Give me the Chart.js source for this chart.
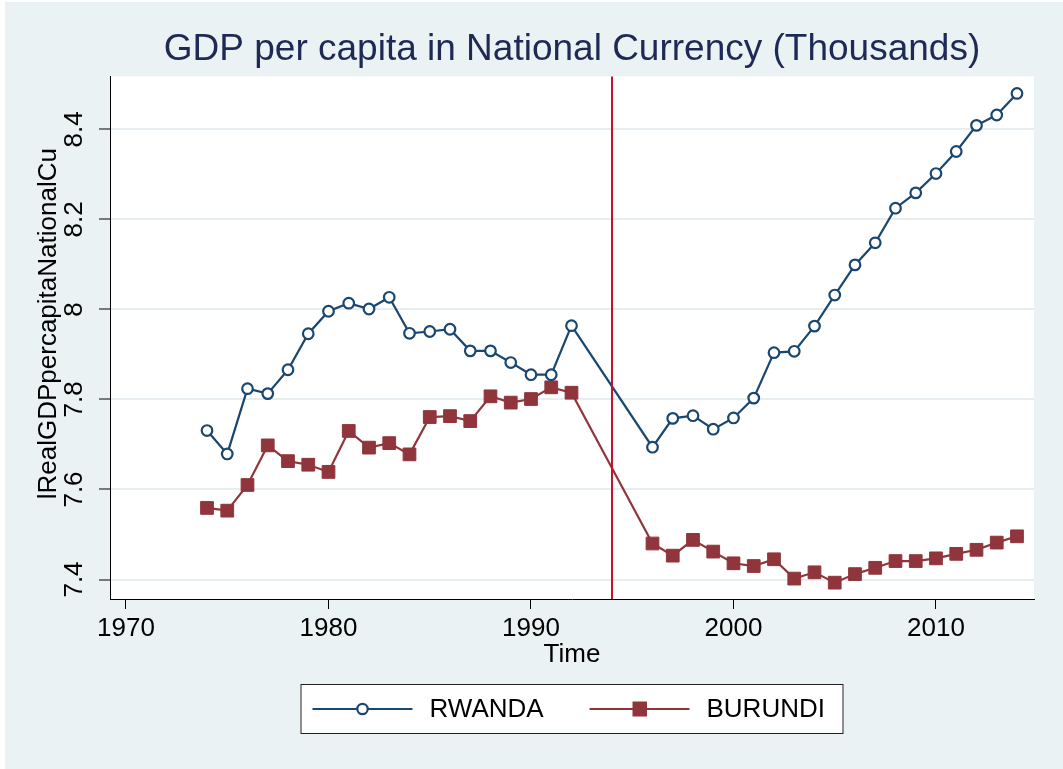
<!DOCTYPE html>
<html>
<head>
<meta charset="utf-8">
<script src="https://cdn.jsdelivr.net/npm/chart.js@4.4.1/dist/chart.umd.min.js"></script>
<style>
  html, body { margin: 0; padding: 0; background: #ffffff; }
  canvas { display: block; }
</style>
</head>
<body>
<canvas id="chart" width="1063" height="769"></canvas>
<script>
const years = [1974, 1975, 1976, 1977, 1978, 1979, 1980, 1981, 1982, 1983,
    1984, 1985, 1986, 1987, 1988, 1989, 1990, 1991, 1992,
    1996, 1997, 1998, 1999, 2000, 2001, 2002, 2003, 2004, 2005,
    2006, 2007, 2008, 2009, 2010, 2011, 2012, 2013, 2014];
const rwanda = [7.731, 7.679, 7.824, 7.813, 7.866, 7.946, 7.996, 8.014, 8.001, 8.027,
    7.947, 7.951, 7.956, 7.908, 7.908, 7.882, 7.855, 7.855, 7.964,
    7.694, 7.758, 7.764, 7.734, 7.759, 7.803, 7.904, 7.907, 7.963, 8.032,
    8.099, 8.148, 8.225, 8.259, 8.302, 8.351, 8.409, 8.432, 8.480];
const burundi = [7.559, 7.553, 7.610, 7.698, 7.663, 7.655, 7.639, 7.730, 7.693, 7.703,
    7.678, 7.761, 7.763, 7.752, 7.807, 7.793, 7.801, 7.827, 7.815,
    7.480, 7.453, 7.488, 7.462, 7.436, 7.430, 7.445, 7.402, 7.416, 7.393,
    7.412, 7.426, 7.441, 7.441, 7.447, 7.457, 7.466, 7.482, 7.496];
const xTicks = [1970, 1980, 1990, 2000, 2010];
const yTicks = [7.4, 7.6, 7.8, 8, 8.2, 8.4];
const eventYear = 1994;

const FONT = "'Liberation Sans', Arial, sans-serif";
const BG = '#EAF2F3';
const NAVY = '#1A476F';
const MAROON = '#90353B';

const toPoints = (vals) => years.map((yr, i) => ({ x: yr, y: vals[i] }));

// background, white plot region
const backdrop = {
    id: 'backdrop',
    beforeDraw: (chart) => {
        const { ctx, chartArea, width, height } = chart;
        ctx.save();
        ctx.fillStyle = '#ffffff';
        ctx.fillRect(0, 0, width, height);
        ctx.fillStyle = BG;
        ctx.fillRect(5, 2, width - 5, height - 2);
        ctx.fillStyle = '#ffffff';
        ctx.fillRect(chartArea.left, chartArea.top,
            chartArea.right - chartArea.left, chartArea.bottom - chartArea.top);
        ctx.restore();
    },
};

// vertical line at 1994
const eventLine = {
    id: 'eventLine',
    afterDatasetsDraw: (chart) => {
        const { ctx, chartArea, scales } = chart;
        const x = scales.x.getPixelForValue(eventYear);
        ctx.save();
        ctx.beginPath();
        ctx.strokeStyle = '#C8102E';
        ctx.lineWidth = 2;
        ctx.moveTo(x, chartArea.top);
        ctx.lineTo(x, chartArea.bottom);
        ctx.stroke();
        ctx.restore();
    },
};

// rotated y tick labels and axis title (Stata style)
const yLabels = {
    id: 'yLabels',
    afterDraw: (chart) => {
        const { ctx, chartArea, scales } = chart;
        const { y } = scales;
        ctx.save();
        ctx.fillStyle = '#000000';
        ctx.font = `26px ${FONT}`;
        ctx.textAlign = 'center';
        ctx.textBaseline = 'middle';
        y.ticks.forEach((t) => {
            const py = y.getPixelForValue(t.value);
            ctx.save();
            ctx.translate(chartArea.left - 35, py);
            ctx.rotate(-Math.PI / 2);
            ctx.fillText(String(Number(t.value.toFixed(1))), 0, 0);
            ctx.restore();
        });
        ctx.translate(chartArea.left - 61, (chartArea.top + chartArea.bottom) / 2 - 14);
        ctx.rotate(-Math.PI / 2);
        ctx.fillText('lRealGDPpercapitaNationalCu', 0, 0);
        ctx.restore();
    },
};

// boxed legend with line + marker samples
const boxLegend = {
    id: 'boxLegend',
    afterDraw: (chart) => {
        const { ctx, chartArea } = chart;
        const cx = (chartArea.left + chartArea.right) / 2;
        const w = 543, h = 50;
        const left = cx - w / 2, top = 684;
        const midY = top + h / 2;
        ctx.save();
        ctx.fillStyle = '#ffffff';
        ctx.fillRect(left, top, w, h);
        ctx.strokeStyle = '#222222';
        ctx.lineWidth = 1;
        ctx.strokeRect(left + 0.5, top + 0.5, w - 1, h - 1);

        const offsets = [12, 289];
        chart.data.datasets.forEach((ds, i) => {
            const x0 = left + offsets[i];
            ctx.beginPath();
            ctx.strokeStyle = ds.borderColor;
            ctx.lineWidth = 2.2;
            ctx.moveTo(x0, midY);
            ctx.lineTo(x0 + 100, midY);
            ctx.stroke();
            if (ds.pointStyle === 'circle') {
                ctx.beginPath();
                ctx.fillStyle = '#ffffff';
                ctx.lineWidth = 2.2;
                ctx.arc(x0 + 50, midY, 5.2, 0, Math.PI * 2);
                ctx.fill();
                ctx.stroke();
            } else {
                ctx.fillStyle = ds.borderColor;
                ctx.fillRect(x0 + 43, midY - 7.5, 14.5, 15);
            }
            ctx.fillStyle = '#000000';
            ctx.font = `26px ${FONT}`;
            ctx.textAlign = 'left';
            ctx.textBaseline = 'middle';
            ctx.fillText(ds.label, x0 + 117, midY + 1);
        });
        ctx.restore();
    },
};

new Chart(document.getElementById('chart'), {
    type: 'line',
    data: {
        datasets: [
            {
                label: 'RWANDA',
                data: toPoints(rwanda),
                borderColor: NAVY,
                borderWidth: 2.2,
                pointStyle: 'circle',
                pointRadius: 5.3,
                pointBorderWidth: 2.2,
                pointBackgroundColor: '#ffffff',
                pointBorderColor: NAVY,
                tension: 0,
            },
            {
                label: 'BURUNDI',
                data: toPoints(burundi),
                borderColor: MAROON,
                borderWidth: 2.2,
                pointStyle: 'rect',
                pointRadius: 9,
                pointBorderWidth: 1,
                pointBackgroundColor: MAROON,
                pointBorderColor: MAROON,
                tension: 0,
            },
        ],
    },
    options: {
        responsive: false,
        animation: false,
        devicePixelRatio: 1,
        layout: {
            padding: { left: 0, right: 29, top: 0, bottom: 101 },
        },
        plugins: {
            legend: { display: false },
            tooltip: { enabled: false },
            title: {
                display: true,
                fullSize: false,
                text: 'GDP per capita in National Currency (Thousands)',
                color: '#1E2A55',
                font: { family: FONT, size: 37, weight: 'normal', lineHeight: 1.2 },
                padding: { top: 28, bottom: 4 },
            },
        },
        scales: {
            x: {
                type: 'linear',
                min: 1969.21,
                max: 2014.84,
                afterBuildTicks: (scale) => {
                    scale.ticks = xTicks.map((v) => ({ value: v }));
                },
                afterFit: (scale) => {
                    scale.height = 69;
                },
                ticks: {
                    color: '#000000',
                    font: { family: FONT, size: 26 },
                    padding: 4,
                    maxRotation: 0,
                    callback: (v) => String(v),
                },
                grid: {
                    drawOnChartArea: false,
                    drawTicks: true,
                    tickLength: 10,
                    tickColor: '#000000',
                    tickWidth: 1,
                },
                border: { display: true, color: '#000000', width: 1 },
                title: {
                    display: true,
                    text: 'Time',
                    color: '#000000',
                    font: { family: FONT, size: 26, lineHeight: 1 },
                    padding: { top: 0, bottom: 0 },
                },
            },
            y: {
                type: 'linear',
                min: 7.3567,
                max: 8.5178,
                afterBuildTicks: (scale) => {
                    scale.ticks = yTicks.map((v) => ({ value: v }));
                },
                afterFit: (scale) => {
                    scale.width = 110;
                },
                ticks: { display: false },
                grid: {
                    color: '#E6EEF1',
                    lineWidth: 2,
                    drawTicks: true,
                    tickLength: 11,
                    tickColor: '#000000',
                    tickWidth: 1,
                },
                border: { display: true, color: '#000000', width: 1 },
            },
        },
    },
    plugins: [backdrop, eventLine, yLabels, boxLegend],
});
</script>
</body>
</html>
